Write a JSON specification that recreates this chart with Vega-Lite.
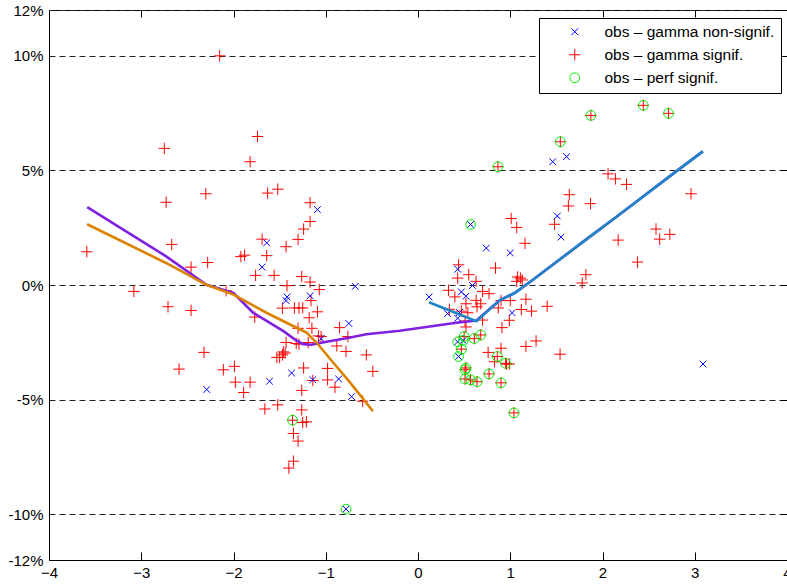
{
  "$schema": "https://vega.github.io/schema/vega-lite/v6.json",
  "width": 738,
  "height": 550,
  "autosize": {"type": "none"},
  "padding": {"left": 49, "top": 10, "right": 0, "bottom": 25},
  "background": "white",
  "config": {
    "view": {"stroke": "black", "strokeWidth": 1},
    "font": "Liberation Sans",
    "axis": {"labelFont": "Liberation Sans", "labelFontSize": 15, "labelColor": "black", "domainColor": "black", "tickColor": "black", "title": null, "labelFlush": false, "labelOverlap": false}
  },
  "datasets": {
    "pts": [
      {"x": -2.15, "y": 10.0, "s": "s"}, {"x": -1.74, "y": 6.48, "s": "s"}, {"x": -2.75, "y": 5.96, "s": "s"}, {"x": -1.82, "y": 5.38, "s": "s"},
      {"x": -2.30, "y": 3.98, "s": "s"}, {"x": -1.63, "y": 4.01, "s": "s"}, {"x": -1.52, "y": 4.18, "s": "s"}, {"x": -2.73, "y": 3.61, "s": "s"},
      {"x": -1.17, "y": 3.59, "s": "s"}, {"x": -1.17, "y": 2.77, "s": "s"}, {"x": -1.24, "y": 2.44, "s": "s"}, {"x": -1.30, "y": 1.99, "s": "s"},
      {"x": -1.43, "y": 1.67, "s": "s"}, {"x": -1.69, "y": 2.0, "s": "s"}, {"x": -1.64, "y": 1.28, "s": "s"}, {"x": -1.92, "y": 1.24, "s": "s"},
      {"x": -1.88, "y": 1.30, "s": "s"}, {"x": -2.67, "y": 1.77, "s": "s"}, {"x": -3.59, "y": 1.45, "s": "s"}, {"x": -2.28, "y": 0.98, "s": "s"},
      {"x": -2.46, "y": 0.78, "s": "s"}, {"x": -1.76, "y": 0.42, "s": "s"}, {"x": -1.56, "y": 0.42, "s": "s"}, {"x": -1.26, "y": 0.37, "s": "s"},
      {"x": -1.17, "y": 0.13, "s": "s"}, {"x": -1.42, "y": -0.03, "s": "s"}, {"x": -1.07, "y": -0.2, "s": "s"}, {"x": -3.08, "y": -0.28, "s": "s"},
      {"x": -2.08, "y": -0.25, "s": "s"}, {"x": -2.71, "y": -0.95, "s": "s"}, {"x": -2.46, "y": -1.11, "s": "s"}, {"x": -1.77, "y": -1.40, "s": "s"},
      {"x": -2.32, "y": -2.94, "s": "s"}, {"x": -2.59, "y": -3.67, "s": "s"}, {"x": -2.11, "y": -3.70, "s": "s"}, {"x": -1.99, "y": -3.55, "s": "s"},
      {"x": -1.98, "y": -4.24, "s": "s"}, {"x": -1.82, "y": -4.24, "s": "s"}, {"x": -1.89, "y": -4.69, "s": "s"}, {"x": -1.66, "y": -5.41, "s": "s"},
      {"x": -1.52, "y": -5.23, "s": "s"}, {"x": -1.36, "y": -5.90, "s": "s"}, {"x": -1.25, "y": -6.0, "s": "s"}, {"x": -1.21, "y": -5.97, "s": "s"},
      {"x": -1.26, "y": -5.45, "s": "s"}, {"x": -1.26, "y": -4.6, "s": "s"}, {"x": -1.24, "y": -3.62, "s": "s"}, {"x": -1.35, "y": -6.48, "s": "s"},
      {"x": -1.30, "y": -6.81, "s": "s"}, {"x": -1.35, "y": -7.69, "s": "s"}, {"x": -1.40, "y": -7.99, "s": "s"}, {"x": -1.47, "y": -1.01, "s": "s"},
      {"x": -1.34, "y": -1.0, "s": "s"}, {"x": -1.29, "y": -1.0, "s": "s"}, {"x": -1.25, "y": -1.0, "s": "s"}, {"x": -1.16, "y": -0.68, "s": "s"},
      {"x": -1.09, "y": -1.17, "s": "s"}, {"x": -1.18, "y": -1.43, "s": "s"}, {"x": -1.15, "y": -1.89, "s": "s"}, {"x": -1.30, "y": -1.89, "s": "s"},
      {"x": -0.85, "y": -1.86, "s": "s"}, {"x": -0.76, "y": -2.25, "s": "s"}, {"x": -1.43, "y": -2.51, "s": "s"}, {"x": -1.32, "y": -2.55, "s": "s"},
      {"x": -1.29, "y": -2.58, "s": "s"}, {"x": -1.19, "y": -2.51, "s": "s"}, {"x": -1.08, "y": -2.22, "s": "s"}, {"x": -1.05, "y": -2.25, "s": "s"},
      {"x": -0.88, "y": -2.66, "s": "s"}, {"x": -0.78, "y": -2.9, "s": "s"}, {"x": -1.46, "y": -2.92, "s": "s"}, {"x": -1.53, "y": -3.16, "s": "s"},
      {"x": -1.50, "y": -3.16, "s": "s"}, {"x": -1.47, "y": -3.05, "s": "s"}, {"x": -1.44, "y": -2.97, "s": "s"}, {"x": -0.56, "y": -3.05, "s": "s"},
      {"x": -0.49, "y": -3.77, "s": "s"}, {"x": -0.98, "y": -3.64, "s": "s"}, {"x": -0.98, "y": -4.14, "s": "s"}, {"x": -1.14, "y": -4.17, "s": "s"},
      {"x": -0.90, "y": -4.46, "s": "s"}, {"x": -0.60, "y": -5.07, "s": "s"},
      {"x": 0.867, "y": 5.16, "s": "s"}, {"x": 1.543, "y": 6.25, "s": "s"}, {"x": 1.874, "y": 7.4, "s": "s"}, {"x": 2.442, "y": 7.84, "s": "s"},
      {"x": 2.716, "y": 7.49, "s": "s"}, {"x": 2.06, "y": 4.85, "s": "s"}, {"x": 2.14, "y": 4.63, "s": "s"}, {"x": 2.26, "y": 4.39, "s": "s"},
      {"x": 2.96, "y": 3.98, "s": "s"}, {"x": 1.64, "y": 3.94, "s": "s"}, {"x": 1.63, "y": 3.45, "s": "s"}, {"x": 1.87, "y": 3.55, "s": "s"},
      {"x": 1.48, "y": 2.65, "s": "s"}, {"x": 1.01, "y": 2.9, "s": "s"}, {"x": 1.07, "y": 2.51, "s": "s"}, {"x": 1.16, "y": 1.82, "s": "s"},
      {"x": 0.84, "y": 0.74, "s": "s"}, {"x": 0.44, "y": 0.88, "s": "s"}, {"x": 0.43, "y": 0.30, "s": "s"}, {"x": 0.55, "y": 0.45, "s": "s"},
      {"x": 0.63, "y": 0.16, "s": "s"}, {"x": 0.33, "y": -0.23, "s": "s"}, {"x": 0.40, "y": -0.52, "s": "s"}, {"x": 0.70, "y": -0.28, "s": "s"},
      {"x": 0.77, "y": -0.38, "s": "s"}, {"x": 1.08, "y": 0.35, "s": "s"}, {"x": 1.11, "y": 0.30, "s": "s"}, {"x": 1.07, "y": 0.16, "s": "s"},
      {"x": 1.13, "y": 0.22, "s": "s"}, {"x": 1.82, "y": 0.45, "s": "s"}, {"x": 1.78, "y": 0.09, "s": "s"}, {"x": 2.17, "y": 1.96, "s": "s"},
      {"x": 2.58, "y": 2.44, "s": "s"}, {"x": 2.62, "y": 2.0, "s": "s"}, {"x": 2.73, "y": 2.21, "s": "s"}, {"x": 2.38, "y": 1.0, "s": "s"},
      {"x": 0.90, "y": -0.68, "s": "s"}, {"x": 1.17, "y": -0.62, "s": "s"}, {"x": 0.52, "y": -0.82, "s": "s"}, {"x": 0.63, "y": -0.67, "s": "s"},
      {"x": 0.68, "y": -0.82, "s": "s"}, {"x": 0.64, "y": -0.95, "s": "s"}, {"x": 1.00, "y": -0.68, "s": "s"}, {"x": 1.23, "y": -1.14, "s": "s"},
      {"x": 1.12, "y": -1.07, "s": "s"}, {"x": 1.40, "y": -0.93, "s": "s"}, {"x": 0.87, "y": -1.0, "s": "s"}, {"x": 0.34, "y": -1.06, "s": "s"},
      {"x": 0.47, "y": -1.14, "s": "s"}, {"x": 0.54, "y": -1.21, "s": "s"}, {"x": 0.51, "y": -1.57, "s": "s"}, {"x": 0.52, "y": -1.83, "s": "s"},
      {"x": 0.70, "y": -1.53, "s": "s"}, {"x": 0.99, "y": -1.54, "s": "s"}, {"x": 0.91, "y": -1.86, "s": "s"}, {"x": 1.17, "y": -2.68, "s": "s"},
      {"x": 1.28, "y": -2.44, "s": "s"}, {"x": 1.54, "y": -3.02, "s": "s"}, {"x": 0.90, "y": -2.76, "s": "s"}, {"x": 0.76, "y": -2.94, "s": "s"},
      {"x": 0.83, "y": -3.35, "s": "s"}, {"x": 0.99, "y": -3.45, "s": "s"}, {"x": 0.96, "y": -3.45, "s": "s"},
      {"x": 0.50, "y": -2.25, "s": "s"}, {"x": 0.61, "y": -2.34, "s": "s"}, {"x": 0.68, "y": -2.18, "s": "s"}, {"x": 0.47, "y": -2.8, "s": "s"},
      {"x": 0.52, "y": -3.62, "s": "s"}, {"x": 0.51, "y": -3.7, "s": "s"}, {"x": 0.51, "y": -4.1, "s": "s"}, {"x": 0.57, "y": -4.14, "s": "s"},
      {"x": 0.64, "y": -4.22, "s": "s"}, {"x": 0.77, "y": -3.88, "s": "s"}, {"x": 0.86, "y": -3.12, "s": "s"}, {"x": 0.95, "y": -3.42, "s": "s"},
      {"x": 0.90, "y": -4.27, "s": "s"}, {"x": 1.04, "y": -5.58, "s": "s"},
      {"x": -1.09, "y": 3.29, "s": "n"}, {"x": -1.64, "y": 1.84, "s": "n"}, {"x": -1.69, "y": 0.78, "s": "n"}, {"x": -0.68, "y": -0.06, "s": "n"},
      {"x": -1.42, "y": -0.52, "s": "n"}, {"x": -1.43, "y": -0.68, "s": "n"}, {"x": -1.17, "y": -0.47, "s": "n"}, {"x": -0.75, "y": -1.68, "s": "n"},
      {"x": -1.05, "y": -2.34, "s": "n"}, {"x": -1.37, "y": -3.84, "s": "n"}, {"x": -1.61, "y": -4.2, "s": "n"}, {"x": -1.14, "y": -4.13, "s": "n"},
      {"x": -0.86, "y": -4.1, "s": "n"}, {"x": -0.72, "y": -4.87, "s": "n"}, {"x": -2.29, "y": -4.56, "s": "n"}, {"x": -0.78, "y": -9.78, "s": "n"},
      {"x": 0.57, "y": 2.64, "s": "n"}, {"x": 1.46, "y": 5.38, "s": "n"}, {"x": 1.61, "y": 5.6, "s": "n"}, {"x": 1.51, "y": 3.01, "s": "n"},
      {"x": 1.55, "y": 2.09, "s": "n"}, {"x": 0.74, "y": 1.61, "s": "n"}, {"x": 1.00, "y": 1.40, "s": "n"}, {"x": 0.43, "y": 0.69, "s": "n"},
      {"x": 0.59, "y": -0.02, "s": "n"}, {"x": 0.47, "y": -0.3, "s": "n"}, {"x": 0.12, "y": -0.52, "s": "n"}, {"x": 0.52, "y": -0.49, "s": "n"},
      {"x": 1.02, "y": -1.21, "s": "n"}, {"x": 0.32, "y": -1.25, "s": "n"}, {"x": 0.45, "y": -1.2, "s": "n"}, {"x": 0.43, "y": -1.45, "s": "n"},
      {"x": 3.09, "y": -3.45, "s": "n"}, {"x": 0.43, "y": -2.48, "s": "n"}, {"x": 0.49, "y": -2.42, "s": "n"}, {"x": 0.44, "y": -3.12, "s": "n"},
      {"x": -1.36, "y": -5.90, "s": "p"}, {"x": -0.78, "y": -9.78, "s": "p"}, {"x": 0.57, "y": 2.64, "s": "p"},
      {"x": 0.867, "y": 5.16, "s": "p"}, {"x": 1.543, "y": 6.25, "s": "p"}, {"x": 1.874, "y": 7.4, "s": "p"}, {"x": 2.442, "y": 7.84, "s": "p"},
      {"x": 2.716, "y": 7.49, "s": "p"}, {"x": 0.50, "y": -2.25, "s": "p"}, {"x": 0.61, "y": -2.34, "s": "p"}, {"x": 0.68, "y": -2.18, "s": "p"},
      {"x": 0.47, "y": -2.8, "s": "p"}, {"x": 0.52, "y": -3.62, "s": "p"}, {"x": 0.51, "y": -3.7, "s": "p"}, {"x": 0.51, "y": -4.1, "s": "p"},
      {"x": 0.57, "y": -4.14, "s": "p"}, {"x": 0.64, "y": -4.22, "s": "p"}, {"x": 0.77, "y": -3.88, "s": "p"}, {"x": 0.86, "y": -3.12, "s": "p"},
      {"x": 0.95, "y": -3.42, "s": "p"}, {"x": 0.90, "y": -4.27, "s": "p"}, {"x": 1.04, "y": -5.58, "s": "p"}, {"x": 0.43, "y": -2.48, "s": "p"},
      {"x": 0.49, "y": -2.42, "s": "p"}, {"x": 0.44, "y": -3.12, "s": "p"}
    ],
    "fits": [
      {"f": "p", "i": 1, "x": -3.586, "y": 3.40}, {"f": "p", "i": 2, "x": -2.726, "y": 1.24}, {"f": "p", "i": 3, "x": -2.293, "y": 0.01},
      {"f": "p", "i": 4, "x": -2.0, "y": -0.35}, {"f": "p", "i": 5, "x": -1.788, "y": -1.21}, {"f": "p", "i": 6, "x": -1.463, "y": -2.0},
      {"f": "p", "i": 7, "x": -1.336, "y": -2.37}, {"f": "p", "i": 8, "x": -1.246, "y": -2.58}, {"f": "p", "i": 9, "x": -1.155, "y": -2.61},
      {"f": "p", "i": 10, "x": -0.992, "y": -2.48}, {"f": "p", "i": 11, "x": -0.776, "y": -2.32}, {"f": "p", "i": 12, "x": -0.559, "y": -2.15},
      {"f": "p", "i": 13, "x": -0.198, "y": -2.0}, {"f": "p", "i": 14, "x": 0.416, "y": -1.65}, {"f": "p", "i": 15, "x": 0.633, "y": -1.55},
      {"f": "p", "i": 16, "x": 0.885, "y": -0.67}, {"f": "p", "i": 17, "x": 1.047, "y": -0.35}, {"f": "p", "i": 18, "x": 1.246, "y": 0.23},
      {"f": "p", "i": 19, "x": 1.86, "y": 2.1}, {"f": "p", "i": 20, "x": 2.149, "y": 2.97}, {"f": "p", "i": 21, "x": 2.763, "y": 4.85},
      {"f": "p", "i": 22, "x": 3.088, "y": 5.83},
      {"f": "o", "i": 1, "x": -3.586, "y": 2.65}, {"f": "o", "i": 2, "x": -2.726, "y": 0.95}, {"f": "o", "i": 3, "x": -2.293, "y": 0.01},
      {"f": "o", "i": 4, "x": -2.0, "y": -0.42}, {"f": "o", "i": 5, "x": -1.643, "y": -1.21}, {"f": "o", "i": 6, "x": -1.354, "y": -1.79},
      {"f": "o", "i": 7, "x": -1.209, "y": -2.08}, {"f": "o", "i": 8, "x": -1.10, "y": -2.51}, {"f": "o", "i": 9, "x": -0.92, "y": -3.38},
      {"f": "o", "i": 10, "x": -0.74, "y": -4.24}, {"f": "o", "i": 11, "x": -0.488, "y": -5.51},
      {"f": "b", "i": 1, "x": 0.119, "y": -0.75}, {"f": "b", "i": 2, "x": 0.633, "y": -1.58}, {"f": "b", "i": 3, "x": 0.885, "y": -0.67},
      {"f": "b", "i": 4, "x": 1.047, "y": -0.35}, {"f": "b", "i": 5, "x": 1.246, "y": 0.23}, {"f": "b", "i": 6, "x": 1.86, "y": 2.1},
      {"f": "b", "i": 7, "x": 2.149, "y": 2.97}, {"f": "b", "i": 8, "x": 2.763, "y": 4.85}, {"f": "b", "i": 9, "x": 3.088, "y": 5.83}
    ]
  },
  "layer": [
    {
      "data": {"name": "pts"},
      "mark": {"type": "point", "filled": false, "strokeWidth": 1, "opacity": 1},
      "encoding": {
        "x": {"field": "x", "type": "quantitative", "scale": {"domain": [-4, 4], "nice": false, "zero": false},
          "axis": {"orient": "bottom", "values": [-4, -3, -2, -1, 0, 1, 2, 3, 4], "grid": false, "tickSize": -8, "labelPadding": 13}},
        "y": {"field": "y", "type": "quantitative", "scale": {"domain": [-12, 12], "nice": false, "zero": false},
          "axis": {"orient": "left", "values": [-12, -10, -5, 0, 5, 10, 12], "labelExpr": "datum.value + '%'", "grid": true, "gridDash": [6, 4], "gridColor": "#222222", "gridOpacity": 1, "ticks": false, "labelPadding": 6}},
        "shape": {"field": "s", "type": "nominal", "scale": {"domain": ["n", "s", "p"], "range": ["M-1,-1L1,1M-1,1L1,-1", "M-1,0L1,0M0,-1L0,1", "circle"]},
          "legend": {"orient": "none", "legendX": 490, "legendY": 8, "title": null, "strokeColor": "black", "fillColor": "white", "padding": 6, "symbolOffset": 22, "labelOffset": 22, "rowPadding": 6, "labelFontSize": 15.5, "labelFont": "Liberation Sans", "labelColor": "black", "labelLimit": 400, "symbolStrokeWidth": 1,
            "labelExpr": "datum.label == 'n' ? 'obs – gamma non-signif.' : datum.label == 's' ? 'obs – gamma signif.' : 'obs – perf signif.'"}},
        "stroke": {"field": "s", "type": "nominal", "scale": {"domain": ["n", "s", "p"], "range": ["#0000FF", "#FF0000", "#00EE00"]}},
        "size": {"field": "s", "type": "nominal", "scale": {"type": "ordinal", "domain": ["n", "s", "p"], "range": [45, 130, 95]}}
      }
    },
    {
      "data": {"name": "fits"},
      "mark": {"type": "line", "strokeWidth": 2.6},
      "encoding": {
        "x": {"field": "x", "type": "quantitative", "axis": {"orient": "top", "values": [-4, -3, -2, -1, 0, 1, 2, 3, 4], "labels": false, "grid": false, "domain": false, "tickSize": -7}},
        "y": {"field": "y", "type": "quantitative", "axis": {"orient": "right", "values": [-12, -10, -5, 0, 5, 10, 12], "labels": false, "grid": false, "domain": false, "tickSize": -7}},
        "color": {"field": "f", "type": "nominal", "scale": {"domain": ["p", "o", "b"], "range": ["#8020E0", "#DC8200", "#1E86C8"]}, "legend": null},
        "order": {"field": "i", "type": "quantitative"},
        "strokeWidth": {"field": "f", "type": "nominal", "scale": {"domain": ["p", "o", "b"], "range": [2.5, 2.5, 3.2]}, "legend": null}
      }
    }
  ],
  "resolve": {"axis": {"x": "independent", "y": "independent"}}
}
